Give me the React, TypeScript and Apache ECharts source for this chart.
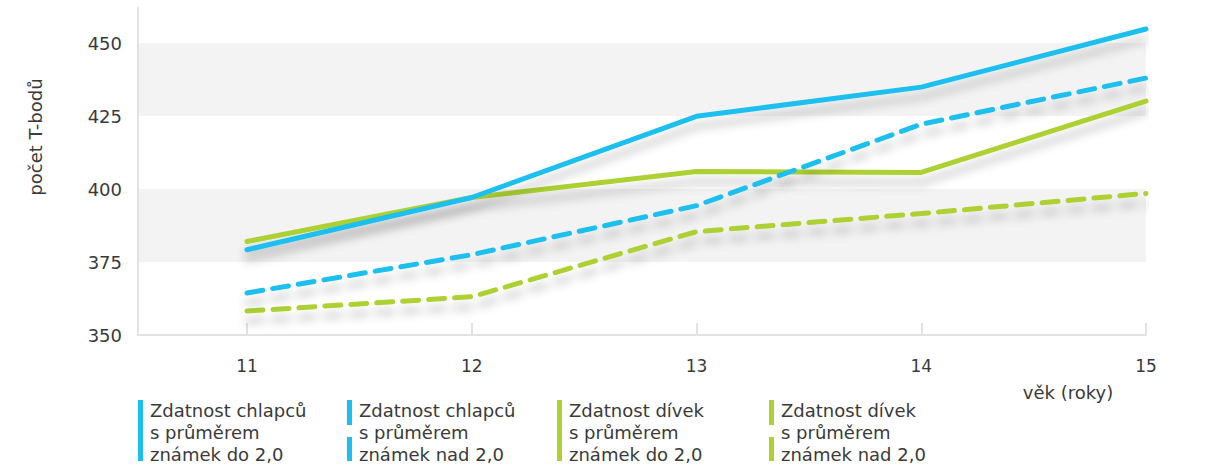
import React, { useEffect, useRef } from "react";
import * as echarts from "echarts";

const ages = [11, 12, 13, 14, 15];
const boysLow = [379.2, 397.1, 424.9, 434.9, 454.8];
const boysHigh = [364.4, 377.5, 394.3, 422.2, 438.0];
const girlsLow = [382.0, 397.1, 406.0, 405.7, 430.1];
const girlsHigh = [358.2, 363.1, 385.4, 391.6, 398.5];
const seriesNames = [
  ["Zdatnost chlapců", "s průměrem", "známek do 2,0"],
  ["Zdatnost chlapců", "s průměrem", "známek nad 2,0"],
  ["Zdatnost dívek", "s průměrem", "známek do 2,0"],
  ["Zdatnost dívek", "s průměrem", "známek nad 2,0"],
];
const yTicks = [350, 375, 400, 425, 450];
const yTitle = "počet T-bodů";
const xTitle = "věk (roky)";

const BLUE = "#1bbfee";
const GREEN = "#add033";
const FONT = "DejaVu Sans";
const TEXT = "#3a3a3a";

export default function App() {
  const ref = useRef<HTMLDivElement>(null);
  useEffect(() => {
    if (!ref.current) return;
    const chart = echarts.init(ref.current, null, { renderer: "svg" });
    const values = [boysLow, boysHigh, girlsLow, girlsHigh];
    const colors = [BLUE, BLUE, GREEN, GREEN];
    const dashed = [false, true, false, true];
    const series = values.map((vals, i) => ({
      name: seriesNames[i].join(" "),
      type: "line",
      data: ages.map((a, j) => [a, vals[j]]),
      symbol: "none",
      z: 10 - i,
      lineStyle: {
        color: colors[i],
        width: 5,
        type: dashed[i] ? [16, 10] : "solid",
        cap: "round",
        shadowColor: "rgba(0,0,0,0.22)",
        shadowBlur: 10,
        shadowOffsetY: 10,
      },
    }));
    const legendX = [138, 347, 557, 769];
    const graphics: any[] = [];
    seriesNames.forEach((lines, i) => {
      const x = legendX[i];
      if (dashed[i]) {
        graphics.push({ type: "rect", shape: { x, y: 400, width: 5, height: 25 }, style: { fill: colors[i] } });
        graphics.push({ type: "rect", shape: { x, y: 437, width: 5, height: 24 }, style: { fill: colors[i] } });
      } else {
        graphics.push({ type: "rect", shape: { x, y: 400, width: 5, height: 61 }, style: { fill: colors[i] } });
      }
      lines.forEach((t, k) => {
        graphics.push({
          type: "text",
          x: x + 12,
          y: 410 + k * 22,
          style: { text: t, fill: TEXT, font: `18px "${FONT}"`, verticalAlign: "middle", align: "left" },
        });
      });
    });
    graphics.push({
      type: "text",
      x: 35,
      y: 137,
      rotation: Math.PI / 2,
      style: { text: yTitle, fill: TEXT, font: `18px "${FONT}"`, align: "center", verticalAlign: "middle" },
    });
    graphics.push({
      type: "text",
      x: 1068,
      y: 392,
      style: { text: xTitle, fill: TEXT, font: `18px "${FONT}"`, align: "center", verticalAlign: "middle" },
    });
    chart.setOption({
      animation: false,
      grid: { left: 138, right: 59, top: 8, bottom: 133, containLabel: false },
      xAxis: {
        type: "value",
        min: 10.515,
        max: 15,
        axisLine: { show: true, lineStyle: { color: "#e2e2e2", width: 2 } },
        axisTick: { show: true, inside: true, length: 12, customValues: ages, lineStyle: { color: "#e2e2e2", width: 2 } },
        axisLabel: { customValues: ages, color: TEXT, fontSize: 17, fontFamily: FONT, margin: 22 },
        splitLine: { show: false },
      },
      yAxis: {
        type: "value",
        min: 350,
        max: 462,
        interval: 25,
        axisLine: { show: true, lineStyle: { color: "#e2e2e2", width: 2 } },
        axisTick: { show: false },
        axisLabel: { color: TEXT, fontSize: 18, fontFamily: FONT, margin: 16, customValues: yTicks },
        splitLine: { show: false },
        splitArea: { show: true, areaStyle: { color: ["#ffffff", "#f3f3f3"] } },
      },
      series,
      graphic: graphics,
    });
    return () => chart.dispose();
  }, []);
  return <div ref={ref} style={{ position: "absolute", left: 0, top: 0, width: 1205, height: 468 }} />;
}
